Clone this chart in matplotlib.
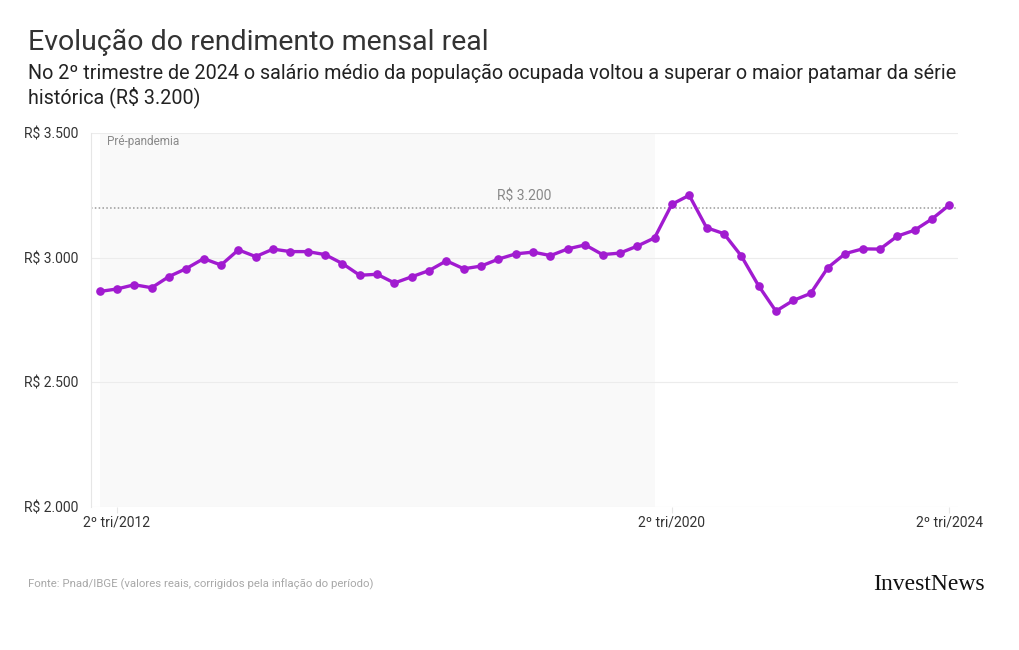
import numpy as np
import matplotlib.pyplot as plt

# rendimento medio real, trimestral, 1o tri/2012 a 2o tri/2024
quarters = ["%dº tri/%d" % (q, y) for y in range(2012, 2025) for q in (1, 2, 3, 4)][:50]
income = [2865, 2875, 2892, 2880, 2925, 2957, 2997, 2971, 3032, 3005,
          3035, 3025, 3025, 3013, 2977, 2930, 2934, 2899, 2924, 2949,
          2988, 2956, 2967, 2995, 3016, 3023, 3009, 3036, 3052, 3013,
          3019, 3047, 3080, 3215, 3251, 3121, 3097, 3008, 2888, 2786,
          2829, 2857, 2961, 3017, 3036, 3035, 3087, 3111, 3156, 3212]
yticks = [2000, 2500, 3000, 3500]
xtick_labels = ["2º tri/2012", "2º tri/2020", "2º tri/2024"]
ref_value = 3200
pre_end = "1º tri/2020"

plt.rcParams['font.family'] = ['Roboto', 'DejaVu Sans']

fig = plt.figure(figsize=(10.2, 6.5), dpi=100)
ax = fig.add_axes([0.0892, 0.22, 0.85, 0.575])

x = np.arange(len(income))
ax.plot(x, income, color='#a11bd0', lw=2.4, marker='o', ms=5.2,
        solid_joinstyle='round', zorder=4)

# faixa pre-pandemia
ax.axvspan(0, quarters.index(pre_end), color='#f9f9f9', zorder=0, lw=0)
ax.text(0.4, 3468, "Pré-pandemia", fontsize=8.5, color='#8a8a8a', va='center')

# linha de referencia
ax.axhline(ref_value, color='#999999', lw=1.1, ls=(0, (1, 1.5)), zorder=2)
ax.text(0.5, ref_value + 45, "R$ 3.200", transform=ax.get_yaxis_transform(),
        ha='center', va='center', fontsize=10, color='#888888')

ax.set_xlim(-0.5, 49.5)
ax.set_ylim(2000, 3500)
ax.set_yticks(yticks)
ax.set_yticklabels(["R$ " + f"{v:,}".replace(",", ".") for v in yticks])
ax.set_xticks([quarters.index(l) for l in xtick_labels])
ax.set_xticklabels(xtick_labels)
ax.grid(axis='y', color='#ececec', lw=0.8, zorder=1)
ax.grid(axis='x', visible=False)
for s in ['top', 'right', 'bottom']:
    ax.spines[s].set_visible(False)
ax.spines['left'].set_color('#e6e6e6')
ax.spines['left'].set_linewidth(0.8)
ax.tick_params(axis='y', length=0, pad=9, labelsize=10, labelcolor='#333333')
ax.tick_params(axis='x', length=4, color='#e6e6e6', pad=2, labelsize=10,
               labelcolor='#333333')
ax.set_axisbelow(True)

fig.text(0.0275, 0.935, "Evolução do rendimento mensal real", fontsize=20.5,
         color='#333333', va='center')
fig.text(0.0275, 0.887, "No 2º trimestre de 2024 o salário médio da população ocupada voltou a superar o maior patamar da série",
         fontsize=14.2, color='#222222', va='center')
fig.text(0.0275, 0.850, "histórica (R$ 3.200)", fontsize=14.2, color='#222222', va='center')
fig.text(0.0275, 0.101, "Fonte: Pnad/IBGE (valores reais, corrigidos pela inflação do período)",
         fontsize=8.2, color='#a8a8a8', va='center')
fig.text(0.965, 0.101, "InvestNews", fontsize=17, family='Liberation Serif',
         color='#111111', ha='right', va='center')

fig.savefig("out.png", dpi=100, facecolor='white')
